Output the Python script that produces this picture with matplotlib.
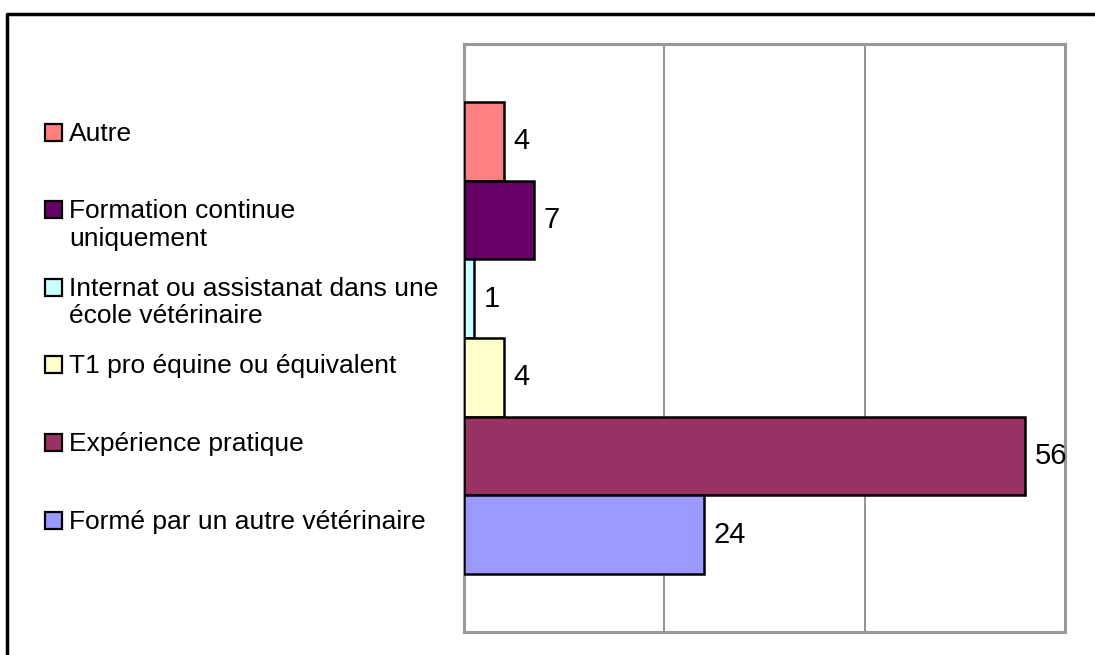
import matplotlib.pyplot as plt
from matplotlib.patches import Rectangle
from matplotlib.lines import Line2D

plt.rcParams['font.family'] = ['Liberation Sans', 'DejaVu Sans']

# legend order (top to bottom)
categories = ['Autre',
              'Formation continue\nuniquement',
              'Internat ou assistanat dans une\nécole vétérinaire',
              'T1 pro équine ou équivalent',
              'Expérience pratique',
              'Formé par un autre vétérinaire']
values = [4, 7, 1, 4, 56, 24]
colors = ['#FF8080', '#660066', '#CCFFFF', '#FFFFCC', '#993366', '#9999FF']

W, H = 1095, 655
fs = 19
fs_val = 21

fig = plt.figure(figsize=(W/100, H/100), dpi=100)
ax = fig.add_axes([464/W, 1-632/H, 601/W, 588/H])

n = len(values)
ypos = [n-1-i for i in range(n)]
ax.barh(ypos, values, height=1.0, color=colors, edgecolor='black', linewidth=1.8, zorder=3)
for y, v in zip(ypos, values):
    ax.text(v + 0.95, y, str(v), fontsize=fs_val, va='center', ha='left', zorder=4)

ax.set_xlim(0, 60)
ax.set_ylim(-0.5-0.737, n-0.5+0.737)
ax.set_xticks([0, 20, 40, 60])
ax.set_yticks([])
ax.xaxis.grid(True, color='#808080', linewidth=1.2, zorder=0)
ax.tick_params(axis='x', length=0, labelbottom=False)
for s in ax.spines.values():
    s.set_color('#999999')
    s.set_linewidth(2.2)

# legend drawn by hand so that entries stay evenly spaced
for i, (lab, c) in enumerate(zip(categories, colors)):
    cy = 132 + 77.6*i
    sz = 17
    fig.patches.append(Rectangle((45/W, 1-(cy+sz/2)/H), sz/W, sz/H, transform=fig.transFigure,
                                 facecolor=c, edgecolor='black', linewidth=1.6))
    for k, line in enumerate(lab.split('\n')):
        fig.text(69/W, 1-(cy+8.7+27.5*k)/H, line, fontsize=fs, va='baseline', ha='left')

# outer frame of the chart
fig.lines.append(Line2D([7/W, 7/W, 1.01], [-0.01, 1-14/H, 1-14/H], transform=fig.transFigure,
                        color='black', linewidth=2.5))

fig.savefig('out.png', dpi=100)
